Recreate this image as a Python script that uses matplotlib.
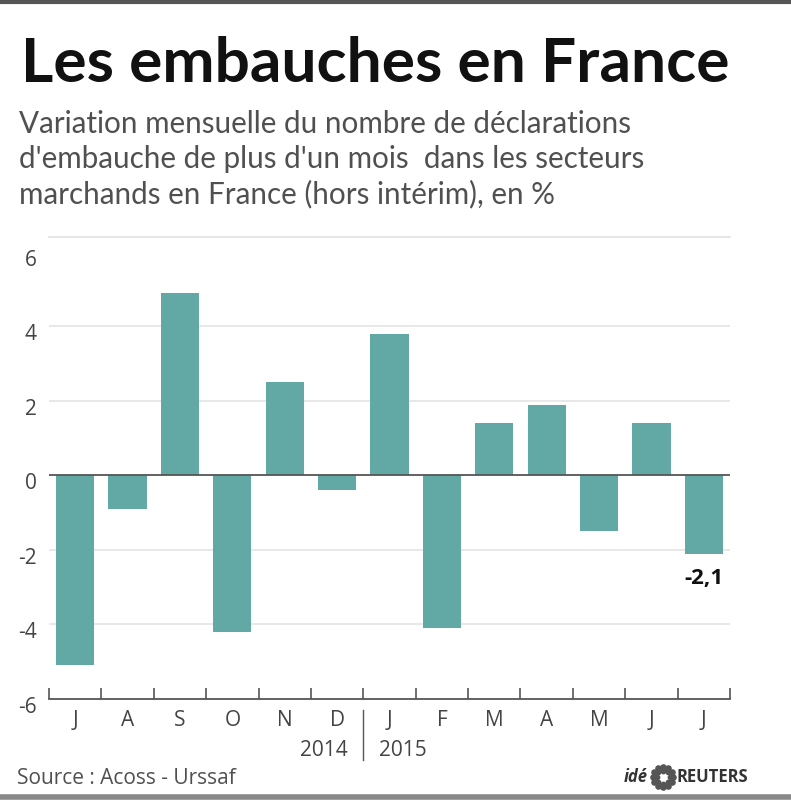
import numpy as np
import matplotlib
matplotlib.use("Agg")
import matplotlib.pyplot as plt
import matplotlib.transforms as mtransforms
from matplotlib.lines import Line2D

months = ["J", "A", "S", "O", "N", "D", "J", "F", "M", "A", "M", "J", "J"]
values = [-5.1, -0.9, 4.9, -4.2, 2.5, -0.4, 3.8, -4.1, 1.4, 1.9, -1.5, 1.4, -2.1]
years = ["2014", "2015"]
yticks = [-6, -4, -2, 0, 2, 4, 6]
last_label = "-2,1"

title = "Les embauches en France"
subtitle_lines = ["Variation mensuelle du nombre de déclarations",
                  "d'embauche de plus d'un mois  dans les secteurs",
                  "marchands en France (hors intérim), en %"]
source = "Source : Acoss - Urssaf"

plt.rcParams['font.family'] = ['Open Sans', 'DejaVu Sans']

W, H = 791, 800
fig = plt.figure(figsize=(W / 100, H / 100), dpi=100)
fig.patch.set_facecolor('white')

ax = fig.add_axes([49 / W, 101 / H, (730 - 49) / W, (699 - 237) / H])
x = np.arange(len(values))
ax.bar(x, values, width=0.73, color='#62a9a5', zorder=2)

ax.set_xlim(-0.5, len(values) - 0.5)
ax.set_ylim(-6, 6.4)

for spine in ['left', 'right']:
    ax.spines[spine].set_visible(False)
ax.spines['top'].set_color('#e2e2e2')
ax.spines['top'].set_linewidth(1.2)
ax.spines['bottom'].set_color('#555555')
ax.spines['bottom'].set_linewidth(1.3)

for y in [4, 2, -2, -4]:
    ax.axhline(y, color='#e2e2e2', lw=1.1, zorder=1)
ax.axhline(0, color='#555555', lw=1.3, zorder=3)

ax.set_yticks(yticks)
ax.set_yticklabels([str(v) for v in yticks])
ax.tick_params(axis='y', length=0, pad=9, labelsize=15, labelcolor='#444444')
shift = mtransforms.ScaledTranslation(0, -0.06, fig.dpi_scale_trans)
for lab in ax.get_yticklabels():
    lab.set_transform(lab.get_transform() + shift)

ax.set_xticks(x)
ax.set_xticklabels(months)
ax.tick_params(axis='x', which='major', length=0, pad=8, labelsize=15, labelcolor='#444444')
ax.set_xticks(np.arange(-0.5, len(values)), minor=True)
ax.tick_params(axis='x', which='minor', direction='in', length=8, width=1.2, color='#555555')

# year separator and labels
trans = mtransforms.blended_transform_factory(ax.transData, ax.transAxes)
ax.add_line(Line2D([5.5, 5.5], [-0.024, -0.132], transform=trans, color='#555555', lw=1.0, clip_on=False))
ax.text(5.2, -0.112, years[0], transform=trans, ha='right', va='center', fontsize=15, color='#444444')
ax.text(5.8, -0.112, years[1], transform=trans, ha='left', va='center', fontsize=15, color='#444444')

# value label of last bar
ax.annotate(last_label, (x[-1], values[-1]), xytext=(0, -10), textcoords='offset points',
            ha='center', va='top', fontsize=16, fontweight='bold', color='#111111')

# titles, fitted to the reference widths
renderer = fig.canvas.get_renderer()


def fit_text(xpix, ypix, s, width_px, size, **kw):
    t = fig.text(xpix / W, 1 - ypix / H, s, fontsize=size, ha='left', va='baseline', **kw)
    w = t.get_window_extent(renderer).width
    t.set_fontsize(size * width_px / w)
    return t


fit_text(21, 82, title, 708, 44, fontweight='bold', color='#111111', family=['Lato', 'DejaVu Sans'])
sub = fit_text(19, 133, subtitle_lines[0], 612, 19, color='#505050', family=['Lato', 'DejaVu Sans'])
sub_size = sub.get_fontsize()
fig.text(19 / W, 1 - 168 / H, subtitle_lines[1], fontsize=sub_size, color='#505050',
         ha='left', va='baseline', family=['Lato', 'DejaVu Sans'])
fig.text(19 / W, 1 - 203 / H, subtitle_lines[2], fontsize=sub_size, color='#505050',
         ha='left', va='baseline', family=['Lato', 'DejaVu Sans'])
fig.text(17 / W, 1 - 779 / H, source, fontsize=15, color='#505050', ha='left', va='center')

# credits
fig.text(648 / W, 1 - 777 / H, "idé", fontsize=12, fontweight='bold', fontstyle='italic',
         color='#333333', ha='right', va='center')
fig.text(677 / W, 1 - 777 / H, "REUTERS", fontsize=12, fontweight='bold', color='#333333',
         ha='left', va='center')
logo = fig.add_axes([650 / W, 1 - 790 / H, 26 / W, 26 / H])
logo.set_aspect('equal')
logo.axis('off')
for r, n, s in [(0.85, 12, 14), (0.55, 8, 10)]:
    ang = np.linspace(0, 2 * np.pi, n, endpoint=False)
    logo.scatter(r * np.cos(ang), r * np.sin(ang), s=s, color='#555555')
logo.set_xlim(-1.1, 1.1)
logo.set_ylim(-1.1, 1.1)

# frame lines at top and bottom
fig.add_artist(Line2D([0, 1], [1 - 1.5 / H, 1 - 1.5 / H], transform=fig.transFigure, color='#555555', lw=3))
fig.add_artist(Line2D([0, 1], [3 / H, 3 / H], transform=fig.transFigure, color='#888888', lw=4))

fig.savefig("out.png", dpi=100, facecolor='white')
